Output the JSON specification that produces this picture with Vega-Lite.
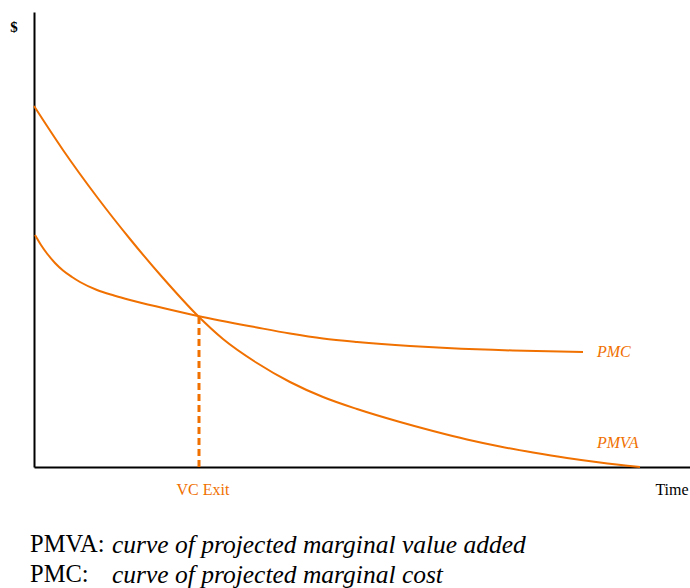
{
  "$schema": "https://vega.github.io/schema/vega-lite/v6.json",
  "width": 656,
  "height": 455,
  "autosize": {"type": "none"},
  "padding": {"left": 34, "top": 12, "right": 0, "bottom": 121},
  "config": {"view": {"stroke": null}, "font": "Liberation Serif", "text": {"font": "Liberation Serif"}},
  "datasets": {
    "curves": [
      {"series": "PMVA", "t": 0, "v": 361},
      {"series": "PMVA", "t": 29, "v": 317},
      {"series": "PMVA", "t": 63, "v": 270},
      {"series": "PMVA", "t": 96, "v": 228},
      {"series": "PMVA", "t": 129, "v": 189},
      {"series": "PMVA", "t": 164, "v": 151},
      {"series": "PMVA", "t": 189, "v": 128},
      {"series": "PMVA", "t": 223, "v": 104},
      {"series": "PMVA", "t": 256, "v": 85},
      {"series": "PMVA", "t": 289, "v": 70},
      {"series": "PMVA", "t": 323, "v": 58},
      {"series": "PMVA", "t": 366, "v": 45},
      {"series": "PMVA", "t": 399, "v": 36},
      {"series": "PMVA", "t": 433, "v": 27.5},
      {"series": "PMVA", "t": 466, "v": 20.5},
      {"series": "PMVA", "t": 499, "v": 14.5},
      {"series": "PMVA", "t": 533, "v": 9},
      {"series": "PMVA", "t": 566, "v": 4.5},
      {"series": "PMVA", "t": 606, "v": 0},
      {"series": "PMC", "t": 1, "v": 232},
      {"series": "PMC", "t": 7, "v": 222},
      {"series": "PMC", "t": 13, "v": 213.5},
      {"series": "PMC", "t": 21, "v": 204},
      {"series": "PMC", "t": 29, "v": 196.5},
      {"series": "PMC", "t": 38, "v": 190},
      {"series": "PMC", "t": 46, "v": 185},
      {"series": "PMC", "t": 63, "v": 177},
      {"series": "PMC", "t": 80, "v": 171.5},
      {"series": "PMC", "t": 96, "v": 167},
      {"series": "PMC", "t": 129, "v": 159},
      {"series": "PMC", "t": 164, "v": 151},
      {"series": "PMC", "t": 223, "v": 139.5},
      {"series": "PMC", "t": 256, "v": 133.5},
      {"series": "PMC", "t": 289, "v": 128.5},
      {"series": "PMC", "t": 323, "v": 125},
      {"series": "PMC", "t": 376, "v": 121},
      {"series": "PMC", "t": 413, "v": 119},
      {"series": "PMC", "t": 479, "v": 116.5},
      {"series": "PMC", "t": 549, "v": 115}
    ],
    "exit": [{"t": 165, "v": 0, "v2": 150}],
    "labels": [
      {"kind": "curve", "label": "PMC", "t": 563, "v": 115},
      {"kind": "curve", "label": "PMVA", "t": 563, "v": 24},
      {"kind": "exit", "label": "VC Exit", "t": 169, "v": -23},
      {"kind": "axis", "label": "Time", "t": 638, "v": -23},
      {"kind": "dollar", "label": "$", "t": -20, "v": 440},
      {"kind": "notekey", "label": "PMVA:", "t": -4, "v": -78},
      {"kind": "notekey", "label": "PMC:", "t": -4, "v": -108},
      {"kind": "notetext", "label": "curve of projected marginal value added", "t": 78, "v": -78},
      {"kind": "notetext", "label": "curve of projected marginal cost", "t": 78, "v": -108}
    ]
  },
  "encoding": {
    "x": {"field": "t", "type": "quantitative", "scale": {"domain": [0, 656], "nice": false, "zero": false},
      "axis": {"title": null, "labels": false, "ticks": false, "grid": false, "domainColor": "#000000", "domainWidth": 2}},
    "y": {"field": "v", "type": "quantitative", "scale": {"domain": [0, 455], "nice": false, "zero": false},
      "axis": {"title": null, "labels": false, "ticks": false, "grid": false, "domainColor": "#000000", "domainWidth": 2}}
  },
  "layer": [
    {
      "data": {"name": "curves"},
      "mark": {"type": "line", "color": "#f07000", "strokeWidth": 2, "interpolate": "monotone"},
      "encoding": {"detail": {"field": "series", "type": "nominal"}}
    },
    {
      "data": {"name": "exit"},
      "mark": {"type": "rule", "color": "#f07000", "strokeWidth": 3, "strokeDash": [7, 4]},
      "encoding": {"y2": {"field": "v2"}}
    },
    {
      "data": {"name": "labels"},
      "transform": [{"filter": "datum.kind === 'curve'"}],
      "mark": {"type": "text", "font": "Liberation Serif", "align": "left", "baseline": "middle", "fontStyle": "italic", "fontSize": 16, "color": "#f07000"},
      "encoding": {"text": {"field": "label"}}
    },
    {
      "data": {"name": "labels"},
      "transform": [{"filter": "datum.kind === 'exit'"}],
      "mark": {"type": "text", "font": "Liberation Serif", "align": "center", "baseline": "middle", "fontSize": 16, "color": "#f07000"},
      "encoding": {"text": {"field": "label"}}
    },
    {
      "data": {"name": "labels"},
      "transform": [{"filter": "datum.kind === 'axis'"}],
      "mark": {"type": "text", "font": "Liberation Serif", "align": "center", "baseline": "middle", "fontSize": 16, "color": "#000000"},
      "encoding": {"text": {"field": "label"}}
    },
    {
      "data": {"name": "labels"},
      "transform": [{"filter": "datum.kind === 'dollar'"}],
      "mark": {"type": "text", "font": "Liberation Serif", "align": "center", "baseline": "middle", "fontSize": 15, "fontWeight": "bold", "color": "#000000"},
      "encoding": {"text": {"field": "label"}}
    },
    {
      "data": {"name": "labels"},
      "transform": [{"filter": "datum.kind === 'notekey'"}],
      "mark": {"type": "text", "font": "Liberation Serif", "align": "left", "baseline": "middle", "fontSize": 24.5, "color": "#000000"},
      "encoding": {"text": {"field": "label"}}
    },
    {
      "data": {"name": "labels"},
      "transform": [{"filter": "datum.kind === 'notetext'"}],
      "mark": {"type": "text", "font": "Liberation Serif", "align": "left", "baseline": "middle", "fontSize": 25.5, "fontStyle": "italic", "color": "#000000"},
      "encoding": {"text": {"field": "label"}}
    }
  ]
}
